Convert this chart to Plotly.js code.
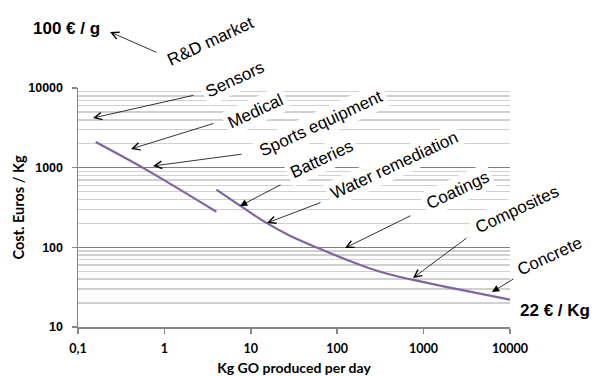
<!DOCTYPE html>
<html>
<head>
<meta charset="utf-8">
<script src="https://cdn.plot.ly/plotly-3.0.1.min.js"></script>
<style>html,body{margin:0;padding:0;background:#fff;}#chart{width:598px;height:376px;}</style>
</head>
<body>
<div id="chart"></div>
<script>
// Data
const seriesSmallX = [0.16, 0.6, 4.0];
const seriesSmallY = [2100, 960, 280];
const seriesLargeX = [4.0, 7.5, 15, 28, 60, 140, 240, 420, 760, 2800, 10000];
const seriesLargeY = [530, 334, 204, 141, 98, 67.3, 54.3, 45.2, 39, 29, 22];
const xTickVals = [0.1, 1, 10, 100, 1000, 10000];
const xTickText = ['0,1', '1', '10', '100', '1000', '10000'];
const yTickVals = [10, 100, 1000, 10000];
const yTickText = ['10', '100', '1000', '10000'];
const markets = ['R&D market', 'Sensors', 'Medical', 'Sports equipment', 'Batteries',
                 'Water remediation', 'Coatings', 'Composites', 'Concrete'];
const priceLabels = ['100 € / g', '22 € / Kg'];

// layout helpers (pixel -> paper)
const L = 78, R = 88, T = 88, B = 49, W = 598, H = 376;
const PW = W - L - R, PH = H - T - B;
const px = v => (v - L) / PW;
const py = v => (H - B - v) / PH;

const textPos = [[210, 41], [235, 80], [255, 111], [321, 123], [321, 159],
                 [394, 165], [457, 190], [517, 209], [549, 256]];
const arrows = [[158, 53, 110, 32, 5], [195, 95, 93, 118, 5], [215, 123, 131, 149, 5],
                [243, 154, 153, 166, 5], [282, 184, 240, 206, 2], [322, 202, 267, 223, 5],
                [412, 215, 345, 248, 5], [468, 237, 413, 278, 5], [515, 278, 492, 292, 2]];

const annotations = [];
arrows.forEach(a => {
  annotations.push({
    xref: 'paper', yref: 'paper', x: px(a[2]), y: py(a[3]),
    ax: a[0] - a[2], ay: a[1] - a[3], axref: 'pixel', ayref: 'pixel',
    text: '', showarrow: true, arrowhead: a[4], arrowsize: 1.8, arrowwidth: 0.8,
    arrowcolor: '#000', standoff: 0, startstandoff: 0
  });
});
markets.forEach((m, i) => {
  annotations.push({
    xref: 'paper', yref: 'paper', x: px(textPos[i][0]), y: py(textPos[i][1]),
    xanchor: 'center', yanchor: 'middle', text: m, showarrow: false,
    textangle: -25, bgcolor: '#ffffff', borderpad: 3,
    font: {family: 'Liberation Sans, Arial, sans-serif', size: 17, color: '#000'}
  });
});
annotations.push({
  xref: 'paper', yref: 'paper', x: px(66), y: py(29), xanchor: 'center', yanchor: 'middle',
  text: '<b>' + priceLabels[0] + '</b>', showarrow: false,
  font: {family: 'Liberation Sans, Arial, sans-serif', size: 17, color: '#000'}
});
annotations.push({
  xref: 'paper', yref: 'paper', x: px(555), y: py(310), xanchor: 'center', yanchor: 'middle',
  text: '<b>' + priceLabels[1] + '</b>', showarrow: false,
  font: {family: 'Liberation Sans, Arial, sans-serif', size: 17, color: '#000'}
});

const lineStyle = {color: '#8064A2', width: 2.2, shape: 'spline', smoothing: 1};
const data = [
  {x: seriesSmallX, y: seriesSmallY, type: 'scatter', mode: 'lines', line: lineStyle, hoverinfo: 'skip'},
  {x: seriesLargeX, y: seriesLargeY, type: 'scatter', mode: 'lines', line: lineStyle, hoverinfo: 'skip'}
];

const layout = {
  width: W, height: H,
  margin: {l: L, r: R, t: T, b: B, pad: 0},
  paper_bgcolor: '#fff', plot_bgcolor: '#fff',
  showlegend: false,
  xaxis: {
    type: 'log', range: [-1, 4], tickmode: 'array', tickvals: xTickVals, ticktext: xTickText,
    showgrid: false, zeroline: false, showline: true, linecolor: '#868686', linewidth: 1.5,
    ticks: 'outside', ticklen: 5, tickcolor: '#868686', tickwidth: 1.5,
    ticklabelstandoff: 4,
    tickfont: {family: 'Lato, sans-serif', size: 12.5, color: '#000', weight: 'bold'},
    title: {text: '<b>Kg GO produced per day</b>', standoff: 10,
            font: {family: 'Lato, sans-serif', size: 14, color: '#000'}},
    fixedrange: true
  },
  yaxis: {
    type: 'log', range: [1, 4], tickmode: 'array', tickvals: yTickVals, ticktext: yTickText,
    showgrid: true, gridcolor: '#7f7f7f', gridwidth: 1.6,
    zeroline: false, showline: true, linecolor: '#868686', linewidth: 1.5,
    ticks: 'outside', ticklen: 5, tickcolor: '#868686', tickwidth: 1.5,
    ticklabelstandoff: 6,
    tickfont: {family: 'Liberation Sans, Arial, sans-serif', size: 12.5, color: '#000', weight: 'bold'},
    minor: {dtick: 'D1', showgrid: true, gridcolor: '#d0d0d0', gridwidth: 1.6, ticks: ''},
    title: {text: '<b>Cost. Euros / Kg</b>', standoff: 0,
            font: {family: 'Lato, sans-serif', size: 14.5, color: '#000'}},
    fixedrange: true
  },
  annotations: annotations
};

Plotly.newPlot('chart', data, layout, {staticPlot: true, displayModeBar: false});
</script>
</body>
</html>
